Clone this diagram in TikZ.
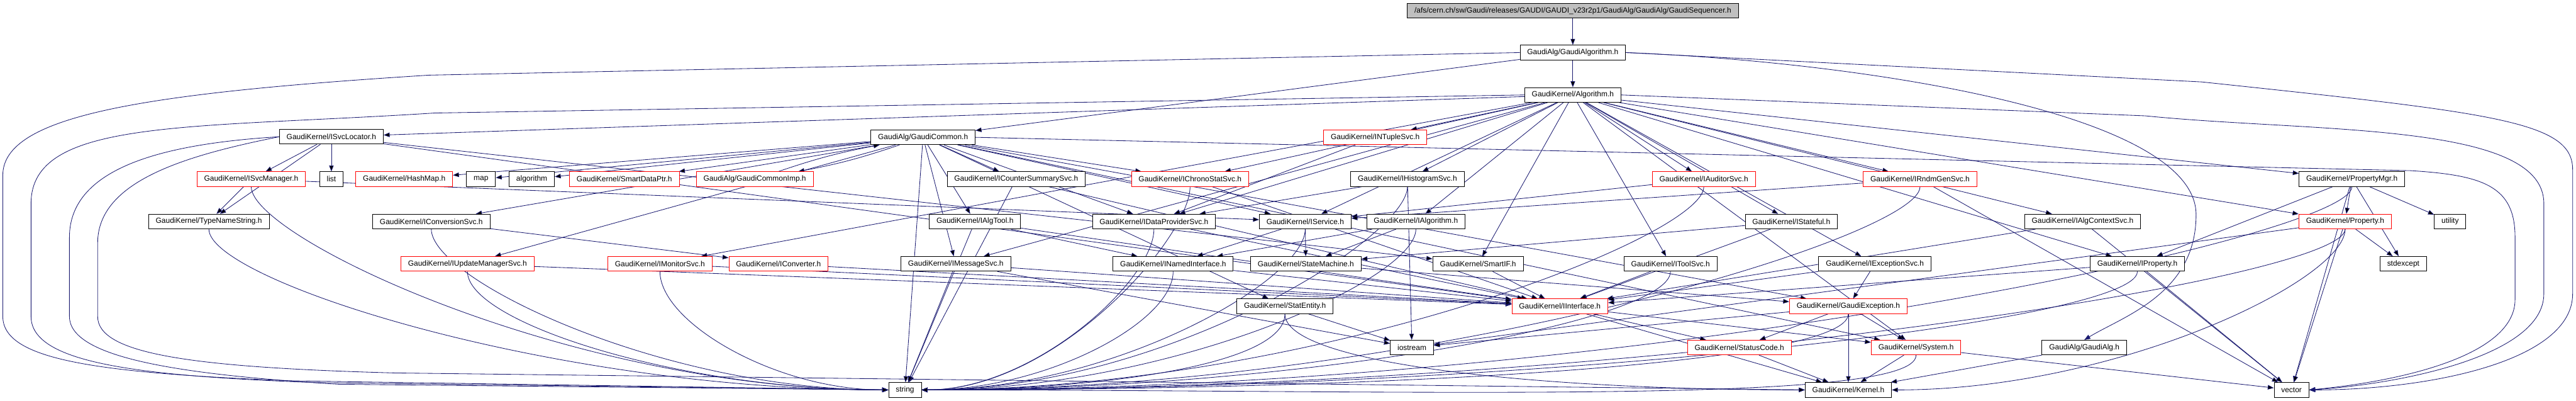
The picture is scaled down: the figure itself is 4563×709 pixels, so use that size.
\documentclass[tikz,border=0pt]{standalone}
\usepackage{fontspec}
\newfontfamily\dotfont{Liberation Sans}
\usepackage{tikz}
\usetikzlibrary{arrows.meta,backgrounds}
\definecolor{edgeblue}{RGB}{25,25,112}
\definecolor{rootgrey}{RGB}{191,191,191}
\tikzset{
	depgraph/.style={
		x=0.75pt, y=-0.75pt,
		>={Triangle[length=8pt,width=6pt]},
		font=\dotfont\fontsize{10}{12}\selectfont},
	file/.style={rectangle, draw=black, fill=white, line width=0.75pt,
		minimum height=19.5pt, inner xsep=9.5pt, inner ysep=0pt},
	cutfile/.style={file, draw=red},
	rootfile/.style={file, fill=rootgrey},
	dep/.style={->, draw=edgeblue, line width=0.7pt},
	sweepright/.style={to path={(\tikztostart.south) .. controls +(0,90) and +(#1,0) .. (\tikztotarget.east) \tikztonodes}},
	sweepleft/.style={to path={(\tikztostart.south) .. controls +(0,90) and +(-#1,0) .. (\tikztotarget.west) \tikztonodes}}}

\begin{document}
\begin{tikzpicture}[depgraph]
	\useasboundingbox (0,0) rectangle (4563,709);
	
	\node[rootfile] (seq) at (2786,19) {/afs/cern.ch/sw/Gaudi/releases/GAUDI/GAUDI\_v23r2p1/GaudiAlg/GaudiAlg/GaudiSequencer.h};
	\node[file] (galgo) at (2786,93) {GaudiAlg/GaudiAlgorithm.h};
	\node[file] (algo) at (2786,168) {GaudiKernel/Algorithm.h};
	
	\node[file] (svcloc) at (587,242) {GaudiKernel/ISvcLocator.h};
	\node[file] (gcommon) at (1635,243) {GaudiAlg/GaudiCommon.h};
	\node[cutfile] (ntuple) at (2436,243) {GaudiKernel/INTupleSvc.h};
	
	\node[cutfile] (svcmgr) at (445,317) {GaudiKernel/ISvcManager.h};
	\node[file] (list) at (587,317) {list};
	\node[cutfile] (hashmap) at (716,317) {GaudiKernel/HashMap.h};
	\node[file] (map) at (852,317) {map};
	\node[file] (algorithm) at (942,317) {algorithm};
	\node[cutfile] (smartptr) at (1106,317) {GaudiKernel/SmartDataPtr.h};
	\node[cutfile] (gcommonimp) at (1337,317) {GaudiAlg/GaudiCommonImp.h};
	\node[file] (countsvc) at (1800,317) {GaudiKernel/ICounterSummarySvc.h};
	\node[cutfile] (chronosvc) at (2108,317) {GaudiKernel/IChronoStatSvc.h};
	\node[file] (histosvc) at (2493,317) {GaudiKernel/IHistogramSvc.h};
	\node[cutfile] (auditsvc) at (3018,317) {GaudiKernel/IAuditorSvc.h};
	\node[cutfile] (rndmsvc) at (3401,317) {GaudiKernel/IRndmGenSvc.h};
	\node[file] (propmgr) at (4166,317) {GaudiKernel/PropertyMgr.h};
	
	\node[file] (typename) at (370,392) {GaudiKernel/TypeNameString.h};
	\node[file] (convsvc) at (764,392) {GaudiKernel/IConversionSvc.h};
	\node[file] (algtool) at (1727,392) {GaudiKernel/IAlgTool.h};
	\node[file] (datasvc) at (2044,392) {GaudiKernel/IDataProviderSvc.h};
	\node[file] (iservice) at (2312,392) {GaudiKernel/IService.h};
	\node[file] (ialgorithm) at (2508,392) {GaudiKernel/IAlgorithm.h};
	\node[file] (istateful) at (3173,392) {GaudiKernel/IStateful.h};
	\node[file] (ctxsvc) at (3689,392) {GaudiKernel/IAlgContextSvc.h};
	\node[cutfile] (property) at (4154,392) {GaudiKernel/Property.h};
	\node[file] (utility) at (4340,392) {utility};
	
	\node[cutfile] (updsvc) at (828,467) {GaudiKernel/IUpdateManagerSvc.h};
	\node[cutfile] (monsvc) at (1169,467) {GaudiKernel/IMonitorSvc.h};
	\node[cutfile] (converter) at (1379,467) {GaudiKernel/IConverter.h};
	\node[file] (msgsvc) at (1693,467) {GaudiKernel/IMessageSvc.h};
	\node[file] (named) at (2078,467) {GaudiKernel/INamedInterface.h};
	\node[file] (statemach) at (2313,467) {GaudiKernel/StateMachine.h};
	\node[file] (smartif) at (2618,467) {GaudiKernel/SmartIF.h};
	\node[file] (toolsvc) at (2959,467) {GaudiKernel/IToolSvc.h};
	\node[file] (excsvc) at (3321,467) {GaudiKernel/IExceptionSvc.h};
	\node[file] (iproperty) at (3786,467) {GaudiKernel/IProperty.h};
	\node[file] (stdexcept) at (4257,467) {stdexcept};
	
	\node[file] (statentity) at (2276,542) {GaudiKernel/StatEntity.h};
	\node[cutfile] (iinterface) at (2763,542) {GaudiKernel/IInterface.h};
	\node[cutfile] (gexcept) at (3274,542) {GaudiKernel/GaudiException.h};
	
	\node[file] (iostream) at (2501,615) {iostream};
	\node[cutfile] (statcode) at (3081,615) {GaudiKernel/StatusCode.h};
	\node[cutfile] (system) at (3394,615) {GaudiKernel/System.h};
	\node[file] (gaudialg) at (3692,615) {GaudiAlg/GaudiAlg.h};
	
	\node[file] (string) at (1603,690) {string};
	\node[file] (kernel) at (3274,690) {GaudiKernel/Kernel.h};
	\node[file] (vector) at (4059,690) {vector};
	
	\begin{pgfonlayer}{background}
	% long edges round the sides
	\draw[dep] (galgo.west) -- (760,133) .. controls (250,165) and (5,205) .. (5,310) -- (5,560) .. controls (5,635) and (160,660) .. (520,674) -- (string.west);
	\draw[dep] (algo.west) -- (770,200) .. controls (330,228) and (55,210) .. (55,360) -- (55,560) .. controls (55,640) and (230,665) .. (560,677) -- (string.west);
	\draw[dep] (svcloc.west) .. controls (280,255) and (123,300) .. (123,420) -- (123,560) .. controls (123,630) and (300,662) .. (600,680) -- (string.west);
	\draw[dep] (svcloc.west) .. controls (330,275) and (173,320) .. (173,430) -- (173,560) .. controls (173,625) and (330,650) .. (700,660) -- (kernel.west);
	\draw[dep] (galgo.east) -- (3900,145) .. controls (4420,200) and (4557,215) .. (4557,300) -- (4557,520) .. controls (4557,640) and (4300,690) .. (vector.east);
	\draw[dep] (algo.east) -- (3800,205) .. controls (4100,235) and (4506,215) .. (4506,360) -- (4506,520) .. controls (4506,630) and (4250,680) .. (vector.east);
	\draw[dep] (gcommon.east) -- (4270,302) .. controls (4400,310) and (4455,330) .. (4455,420) -- (4455,530) .. controls (4455,630) and (4250,675) .. (vector.east);
	\draw[dep] (galgo.east) .. controls (3300,110) and (3890,200) .. (3890,380) .. controls (3890,520) and (3760,560) .. (gaudialg.north);
	
	\path[dep] (seq) edge (galgo);
	\path[dep] (galgo) edge (algo) edge (gcommon);
	\path[dep] (algo) edge (svcloc) edge (ntuple) edge (histosvc) edge (chronosvc)
		edge (auditsvc) edge (rndmsvc) edge (propmgr) edge (datasvc) edge (iservice)
		edge (ialgorithm) edge (istateful) edge (ctxsvc) edge (msgsvc) edge (smartif)
		edge (toolsvc) edge (monsvc) edge (excsvc) edge (iproperty) edge (property)
		edge (system);
	\path[dep] (svcloc) edge (svcmgr) edge (list) edge (typename) edge (iinterface) edge (smartif);
	\path[dep] (gcommon) edge (hashmap) edge (map) edge (algorithm) edge (smartptr)
		edge[bend left=4] (gcommonimp) edge (countsvc) edge (chronosvc) edge (msgsvc)
		edge (algtool) edge (datasvc) edge (convsvc) edge (updsvc) edge (statentity)
		edge (gexcept) edge (iservice) edge (system) edge (string);
	\path[dep] (gcommonimp) edge[bend left=4] (gcommon);
	\path[dep] (svcmgr) edge (typename) edge (iservice) edge[sweepleft=560] (string);
	\path[dep] (typename) edge[sweepleft=600] (string);
	\path[dep] (convsvc) edge (converter) edge[sweepleft=400] (string);
	\path[dep] (ntuple) edge (datasvc);
	\path[dep] (histosvc) edge (datasvc) edge[sweepright=430] (string) edge (iostream);
	\path[dep] (countsvc) edge (iinterface) edge (string);
	\path[dep] (chronosvc) edge (iinterface) edge[sweepright=240] (string);
	\path[dep] (auditsvc) edge (iservice) edge[sweepright=690] (string);
	\path[dep] (rndmsvc) edge (iservice) edge (vector) edge[sweepright=880] (string);
	\path[dep] (propmgr) edge (property) edge (iproperty) edge (utility) edge (stdexcept) edge (vector) edge[sweepright=1260] (string);
	\path[dep] (algtool) edge (named) edge (iinterface) edge (string);
	\path[dep] (datasvc) edge (iinterface) edge[sweepright=200] (string);
	\path[dep] (iservice) edge (statemach) edge (named) edge[sweepright=340] (string);
	\path[dep] (ialgorithm) edge (named) edge (statemach) edge[sweepright=440] (string);
	\path[dep] (istateful) edge (statemach) edge (iinterface);
	\path[dep] (ctxsvc) edge (iinterface) edge (vector);
	\path[dep] (property) edge (stdexcept) edge (vector) edge[sweepright=1260] (string) edge (iostream) edge[sweepright=400] (kernel);
	\path[dep] (updsvc) edge (iinterface) edge[sweepleft=370] (string);
	\path[dep] (monsvc) edge (iinterface) edge[sweepleft=200] (string);
	\path[dep] (converter) edge (iinterface);
	\path[dep] (msgsvc) edge (iinterface) edge (string) edge (iostream);
	\path[dep] (named) edge (iinterface) edge[sweepright=220] (string);
	\path[dep] (statemach) edge (gexcept);
	\path[dep] (smartif) edge (iinterface);
	\path[dep] (toolsvc) edge (iinterface) edge[sweepright=660] (string);
	\path[dep] (excsvc) edge (gexcept) edge (iinterface);
	\path[dep] (iproperty) edge (iinterface) edge[sweepright=1080] (string) edge (vector);
	\path[dep] (statentity) edge (iostream) edge[sweepright=320] (string) edge[sweepleft=460] (kernel);
	\path[dep] (iinterface) edge (statcode) edge (system) edge (kernel);
	\path[dep] (gexcept) edge (statcode) edge (system) edge (kernel) edge[sweepright=820] (string) edge (iostream);
	\path[dep] (statcode) edge (kernel);
	\path[dep] (system) edge (kernel) edge[sweepright=880] (string) edge (vector);
	\path[dep] (gaudialg) edge (kernel);
	\end{pgfonlayer}
	
\end{tikzpicture}
\end{document}
